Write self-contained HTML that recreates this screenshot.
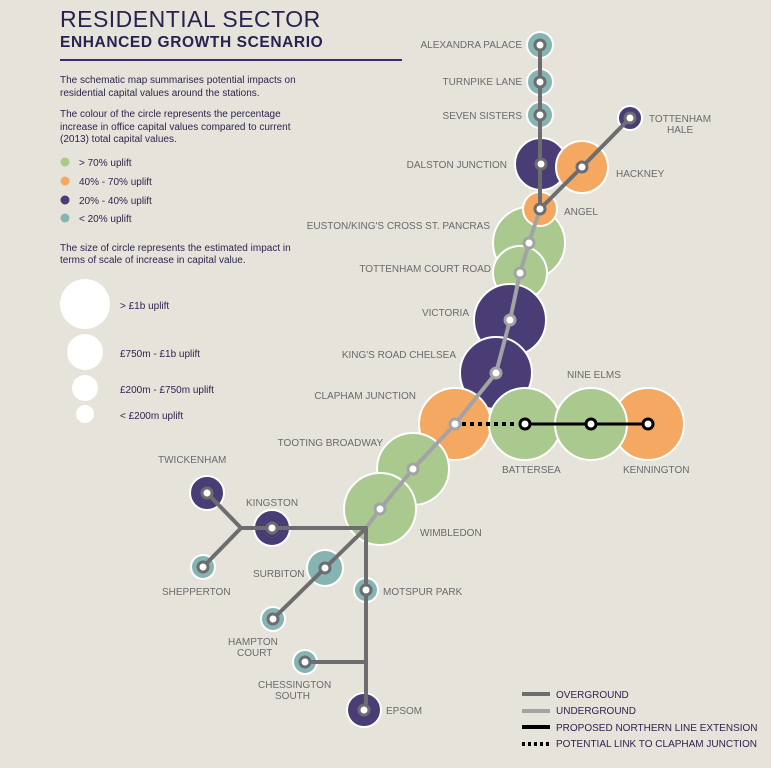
<!DOCTYPE html>
<html><head><meta charset="utf-8"><style>
html,body{margin:0;padding:0;background:#e6e3da;}
svg{display:block;font-family:"Liberation Sans",sans-serif;}
.l{font-size:10px;fill:#6a6a6c;}
.t{font-size:10px;fill:#2e2550;}
</style></head><body>
<svg width="771" height="768" viewBox="0 0 771 768" xmlns="http://www.w3.org/2000/svg">
<rect width="771" height="768" fill="#e6e3da"/>
<text x="60" y="27" font-size="23" fill="#2a2150" letter-spacing="0.5">RESIDENTIAL SECTOR</text>
<text x="60" y="47" font-size="15.5" font-weight="bold" fill="#2a2150" letter-spacing="0.6">ENHANCED GROWTH SCENARIO</text>
<rect x="60" y="59" width="342" height="2" fill="#3b2a6e"/>
<text class="t" x="60" y="83">The schematic map summarises potential impacts on</text>
<text class="t" x="60" y="96">residential capital values around the stations.</text>
<text class="t" x="60" y="117">The colour of the circle represents the percentage</text>
<text class="t" x="60" y="130">increase in office capital values compared to current</text>
<text class="t" x="60" y="142">(2013) total capital values.</text>
<circle cx="65" cy="162" r="4.5" fill="#a9c98f"/><text class="t" x="79" y="166">&gt; 70%   uplift</text>
<circle cx="65" cy="181" r="4.5" fill="#f4a862"/><text class="t" x="79" y="185">40% - 70%  uplift</text>
<circle cx="65" cy="200" r="4.5" fill="#4a3c74"/><text class="t" x="79" y="204">20% - 40%  uplift</text>
<circle cx="65" cy="218" r="4.5" fill="#85b4b2"/><text class="t" x="79" y="222">&lt; 20%  uplift</text>
<text class="t" x="60" y="251">The size of circle represents the estimated impact in</text>
<text class="t" x="60" y="263">terms of scale of increase in capital value.</text>
<circle cx="85" cy="304" r="25" fill="#fff"/><text class="t" x="120" y="309">&gt; £1b uplift</text>
<circle cx="85" cy="352" r="18" fill="#fff"/><text class="t" x="120" y="357">£750m  - £1b uplift</text>
<circle cx="85" cy="388" r="13" fill="#fff"/><text class="t" x="120" y="393">£200m  - £750m  uplift</text>
<circle cx="85" cy="414" r="9" fill="#fff"/><text class="t" x="120" y="419">&lt; £200m  uplift</text>

<g stroke="#fff" stroke-width="2">
<circle cx="540" cy="45" r="13" fill="#85b4b2"/>
<circle cx="540" cy="82" r="13" fill="#85b4b2"/>
<circle cx="540" cy="115" r="13" fill="#85b4b2"/>
<circle cx="630" cy="118" r="12" fill="#4a3c74"/>
<circle cx="541" cy="164" r="26" fill="#4a3c74"/>
<circle cx="582" cy="167" r="26" fill="#f4a862"/>
<circle cx="529" cy="243" r="36" fill="#a9c98f"/>
<circle cx="520" cy="273" r="27" fill="#a9c98f"/>
<circle cx="540" cy="209" r="17" fill="#f4a862"/>
<circle cx="510" cy="320" r="36" fill="#4a3c74"/>
<circle cx="496" cy="373" r="36" fill="#4a3c74"/>
<circle cx="648" cy="424" r="36" fill="#f4a862"/>
<circle cx="455" cy="424" r="36" fill="#f4a862"/>
<circle cx="525" cy="424" r="36" fill="#a9c98f"/>
<circle cx="591" cy="424" r="36" fill="#a9c98f"/>
<circle cx="413" cy="469" r="36" fill="#a9c98f"/>
<circle cx="380" cy="509" r="36" fill="#a9c98f"/>
<circle cx="207" cy="493" r="17" fill="#4a3c74"/>
<circle cx="272" cy="528" r="18" fill="#4a3c74"/>
<circle cx="203" cy="567" r="12" fill="#85b4b2"/>
<circle cx="325" cy="568" r="18" fill="#85b4b2"/>
<circle cx="273" cy="619" r="12" fill="#85b4b2"/>
<circle cx="366" cy="590" r="12" fill="#85b4b2"/>
<circle cx="305" cy="662" r="12" fill="#85b4b2"/>
<circle cx="364" cy="710" r="17" fill="#4a3c74"/>
</g>

<g fill="none" stroke-width="4" stroke-linecap="round" stroke-linejoin="round">
<path stroke="#a3a3a6" d="M540 209 L529 243 L520 273 L510 320 L496 373 L455 424 L413 469 L380 509 L366 528"/>
<path stroke="#6d6d70" d="M540 45 L540 209 M540 209 L582 167 L630 118 M207 493 L241 528 L203 567 M241 528 L366 528 L366 710 M366 528 L325 568 L273 619 M305 662 L366 662"/>
<path stroke="#000" stroke-width="3" d="M525 424 L648 424"/>
<path stroke="#000" stroke-width="4" stroke-dasharray="4 4" stroke-linecap="butt" d="M462 424 L518 424"/>
</g>
<g fill="#fff" stroke="#6d6d70" stroke-width="3">
<circle cx="540" cy="45" r="5"/><circle cx="540" cy="82" r="5"/><circle cx="540" cy="115" r="5"/>
<circle cx="630" cy="118" r="5"/><circle cx="541" cy="164" r="5"/><circle cx="582" cy="167" r="5"/>
<circle cx="540" cy="209" r="5"/><circle cx="207" cy="493" r="5"/><circle cx="272" cy="528" r="5"/>
<circle cx="203" cy="567" r="5"/><circle cx="325" cy="568" r="5"/><circle cx="273" cy="619" r="5"/>
<circle cx="366" cy="590" r="5"/><circle cx="305" cy="662" r="5"/><circle cx="364" cy="710" r="5"/>
</g>
<g fill="#fff" stroke="#a3a3a6" stroke-width="3">
<circle cx="529" cy="243" r="5"/><circle cx="520" cy="273" r="5"/><circle cx="510" cy="320" r="5"/>
<circle cx="496" cy="373" r="5"/><circle cx="455" cy="424" r="5"/><circle cx="413" cy="469" r="5"/><circle cx="380" cy="509" r="5"/>
</g>
<g fill="#fff" stroke="#000" stroke-width="3">
<circle cx="525" cy="424" r="5"/><circle cx="591" cy="424" r="5"/><circle cx="648" cy="424" r="5"/>
</g>

<g class="l">
<text x="522" y="48" text-anchor="end">ALEXANDRA PALACE</text>
<text x="522" y="85" text-anchor="end">TURNPIKE LANE</text>
<text x="522" y="119" text-anchor="end">SEVEN SISTERS</text>
<text x="649" y="122">TOTTENHAM</text>
<text x="667" y="133">HALE</text>
<text x="507" y="168" text-anchor="end">DALSTON JUNCTION</text>
<text x="616" y="177">HACKNEY</text>
<text x="564" y="215">ANGEL</text>
<text x="490" y="229" text-anchor="end">EUSTON/KING'S CROSS ST. PANCRAS</text>
<text x="491" y="272" text-anchor="end">TOTTENHAM COURT ROAD</text>
<text x="469" y="316" text-anchor="end">VICTORIA</text>
<text x="456" y="358" text-anchor="end">KING'S ROAD CHELSEA</text>
<text x="416" y="399" text-anchor="end">CLAPHAM JUNCTION</text>
<text x="567" y="378">NINE ELMS</text>
<text x="383" y="446" text-anchor="end">TOOTING BROADWAY</text>
<text x="502" y="473">BATTERSEA</text>
<text x="623" y="473">KENNINGTON</text>
<text x="420" y="536">WIMBLEDON</text>
<text x="158" y="463">TWICKENHAM</text>
<text x="246" y="506">KINGSTON</text>
<text x="253" y="577">SURBITON</text>
<text x="383" y="595">MOTSPUR PARK</text>
<text x="162" y="595">SHEPPERTON</text>
<text x="228" y="645">HAMPTON</text>
<text x="237" y="656">COURT</text>
<text x="258" y="688">CHESSINGTON</text>
<text x="275" y="699">SOUTH</text>
<text x="386" y="714">EPSOM</text>
</g>
<g stroke-width="4">
<line x1="522" y1="694" x2="550" y2="694" stroke="#6d6d70"/>
<line x1="522" y1="711" x2="550" y2="711" stroke="#a3a3a6"/>
<line x1="522" y1="727" x2="550" y2="727" stroke="#000"/>
<line x1="522" y1="744" x2="550" y2="744" stroke="#000" stroke-dasharray="3 3"/>
</g>
<g class="t" font-size="9.5">
<text x="556" y="698">OVERGROUND</text>
<text x="556" y="714">UNDERGROUND</text>
<text x="556" y="731">PROPOSED NORTHERN LINE EXTENSION</text>
<text x="556" y="747">POTENTIAL LINK TO CLAPHAM JUNCTION</text>
</g>
</svg>
</body></html>
